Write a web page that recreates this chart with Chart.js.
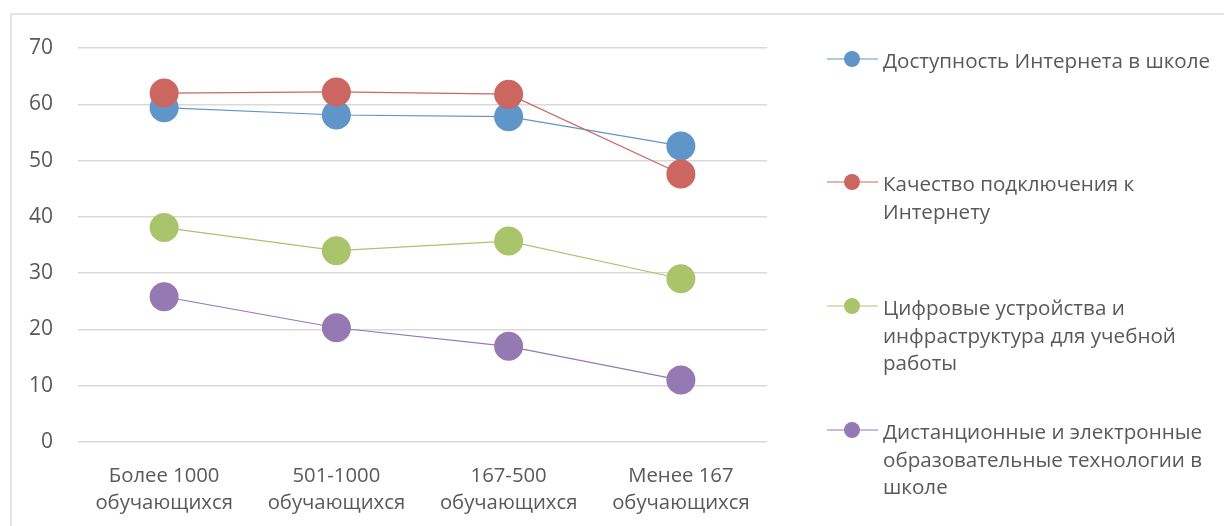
<!DOCTYPE html>
<html lang="ru">
<head>
<meta charset="utf-8">
<title>Доступность цифровой инфраструктуры</title>
<script src="https://cdn.jsdelivr.net/npm/chart.js@4/dist/chart.umd.min.js"></script>
<style>
    html, body { margin: 0; padding: 0; background: #ffffff; overflow: hidden; }
    #frame {
        position: absolute; left: 10px; top: 13px; width: 1230px; height: 530px;
        border: 2px solid #e3e3e3; box-sizing: border-box;
    }
    #wrap { position: absolute; left: 0; top: 0; width: 1224px; height: 526px; }
</style>
</head>
<body>
<div id="frame"></div>
<div id="wrap"><canvas id="chart" width="1224" height="526"></canvas></div>
<script>
// категории (размер школы)
const categories = [
    ['Более 1000', 'обучающихся'],
    ['501-1000', 'обучающихся'],
    ['167-500', 'обучающихся'],
    ['Менее 167', 'обучающихся']
];

// значения рядов, %
const internetAccess  = [59.4, 58.1, 57.8, 52.6];
const connectQuality  = [62.0, 62.2, 61.8, 47.6];
const digitalDevices  = [38.1, 34.0, 35.7, 29.0];
const distanceTech    = [25.8, 20.3, 17.0, 11.0];

// подписи легенды (с переносами как в оригинале)
const legendLines = [
    ['Доступность Интернета в школе'],
    ['Качество подключения к', 'Интернету'],
    ['Цифровые устройства и', 'инфраструктура для учебной', 'работы'],
    ['Дистанционные и электронные', 'образовательные технологии в', 'школе']
];

const yTicks = [0, 10, 20, 30, 40, 50, 60, 70];

const COLORS = ['#5f95c9', '#cc6660', '#aac46b', '#9479b3'];
const FONT = '"Open Sans", "Noto Sans", sans-serif';
const TEXT_COLOR = '#595959';

/**
 * Легенда справа с переносом строк
 */
const sideLegend = {
    id: 'sideLegend',
    afterDraw(chart) {
        const ctx = chart.ctx;
        const itemY = [59, 182, 306, 430];
        ctx.save();
        ctx.font = '20.6px ' + FONT;
        ctx.textBaseline = 'middle';
        ctx.textAlign = 'left';
        chart.data.datasets.forEach((ds, i) => {
            const y = itemY[i];
            ctx.strokeStyle = ds.borderColor;
            ctx.lineWidth = 1;
            ctx.beginPath();
            ctx.moveTo(827, y);
            ctx.lineTo(878, y);
            ctx.stroke();
            ctx.fillStyle = ds.backgroundColor;
            ctx.beginPath();
            ctx.arc(852, y, 8, 0, Math.PI * 2);
            ctx.fill();
            ctx.fillStyle = TEXT_COLOR;
            legendLines[i].forEach((line, k) => {
                ctx.fillText(line, 883, y + 3 + k * 27.7);
            });
        });
        ctx.restore();
    }
};

function makeSet(label, data, color, order) {
    return {
        label: label,
        data: data,
        borderColor: color,
        backgroundColor: color,
        borderWidth: 1.2,
        pointRadius: 14.5,
        pointHoverRadius: 14.5,
        pointBorderWidth: 0,
        tension: 0,
        order: order
    };
}

const ctx = document.getElementById('chart').getContext('2d');
new Chart(ctx, {
    type: 'line',
    data: {
        labels: categories,
        datasets: [
            makeSet(legendLines[0].join(' '), internetAccess, COLORS[0], 4),
            makeSet(legendLines[1].join(' '), connectQuality, COLORS[1], 3),
            makeSet(legendLines[2].join(' '), digitalDevices, COLORS[2], 2),
            makeSet(legendLines[3].join(' '), distanceTech, COLORS[3], 1)
        ]
    },
    options: {
        responsive: false,
        animation: false,
        layout: { padding: { left: 0, top: 48, right: 457, bottom: 0 } },
        scales: {
            x: {
                offset: true,
                grid: { display: false },
                border: { display: false },
                ticks: {
                    color: TEXT_COLOR,
                    font: { family: FONT, size: 20.3, lineHeight: 1.32 },
                    padding: 13,
                    maxRotation: 0,
                    autoSkip: false
                },
                afterFit(scale) { scale.height = 84; }
            },
            y: {
                min: 0,
                max: 70,
                afterBuildTicks(scale) { scale.ticks = yTicks.map(v => ({ value: v })); },
                grid: { color: '#d9d9d9', lineWidth: 1.5, drawTicks: false },
                border: { display: false },
                ticks: {
                    color: TEXT_COLOR,
                    font: { family: FONT, size: 21 },
                    padding: 25
                },
                afterFit(scale) { scale.width = 78; }
            }
        },
        plugins: {
            legend: { display: false },
            tooltip: { enabled: false }
        }
    },
    plugins: [sideLegend]
});
</script>
</body>
</html>
